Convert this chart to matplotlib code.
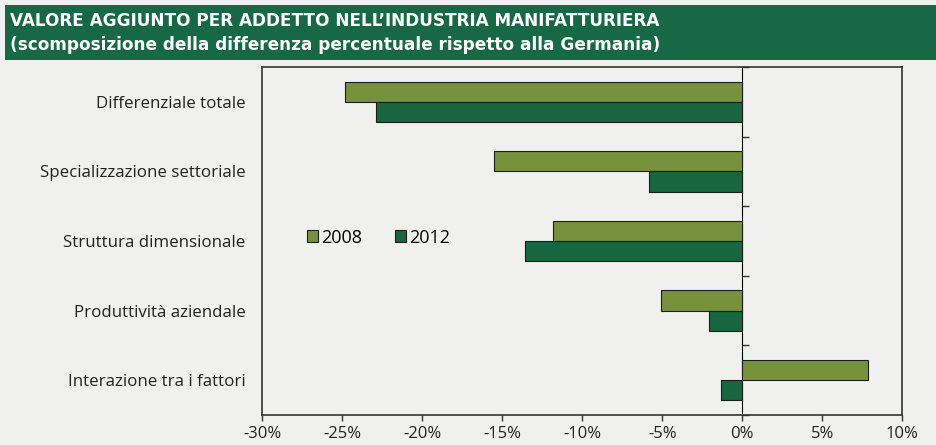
import matplotlib
matplotlib.use("Agg")
import matplotlib.pyplot as plt
import numpy as np
from matplotlib.patches import Rectangle

# categories, top to bottom
categories = ["Differenziale totale", "Specializzazione settoriale",
              "Struttura dimensionale", "Produttività aziendale",
              "Interazione tra i fattori"]
# percentage differences vs Germany
values_2008 = [-24.8, -15.5, -11.8, -5.1, 7.85]
values_2012 = [-22.9, -5.8, -13.6, -2.05, -1.3]
series_labels = ["2008", "2012"]
xticks = [-30, -25, -20, -15, -10, -5, 0, 5, 10]

title_lines = ["VALORE AGGIUNTO PER ADDETTO NELL\u2019INDUSTRIA MANIFATTURIERA",
               "(scomposizione della differenza percentuale rispetto alla Germania)"]

bg = "#f0f0ef"
c2008 = "#76923c"
c2012 = "#17663f"
banner = "#176844"

plt.rcParams['font.family'] = ['Open Sans', 'DejaVu Sans']

fig = plt.figure(figsize=(9.36, 4.45), dpi=100, facecolor=bg)
ax = fig.add_axes([0.280, 0.0674, 0.684, 0.782])
ax.set_facecolor(bg)

# title banner
fig.patches.append(Rectangle((5 / 936, 1 - 60 / 445), 1, 55 / 445,
                             transform=fig.transFigure, facecolor=banner,
                             edgecolor="none", zorder=0))
for i, line in enumerate(title_lines):
    fig.text(10 / 936, 1 - (21 + 24 * i) / 445, line, color="white",
             fontsize=12.2, fontweight="bold", va="center", ha="left",
             family=['DejaVu Sans'])

y = np.arange(len(categories))
h = 0.29
ax.barh(y - h / 2, values_2008, height=h, color=c2008, edgecolor="#1c1c1c",
        linewidth=0.8, label=series_labels[0], zorder=3)
ax.barh(y + h / 2, values_2012, height=h, color=c2012, edgecolor="#1c1c1c",
        linewidth=0.8, label=series_labels[1], zorder=3)

ax.set_xlim(-30, 10)
ax.set_ylim(len(categories) - 0.5, -0.5)
ax.set_yticks(y)
ax.set_yticklabels(categories, fontsize=12.2, color="#222222")
ax.tick_params(axis="y", length=0, pad=12)
ax.set_xticks(xticks)
ax.set_xticklabels([f"{t}%" for t in xticks], fontsize=12, color="#222222")
ax.tick_params(axis="x", direction="out", length=4, width=1, pad=4, color="#333333")
for s in ax.spines.values():
    s.set_color("#333333")
    s.set_linewidth(1.2)

# zero axis with ticks between categories
zero_ax = ax.secondary_yaxis(0.75)
zero_ax.set_yticks(np.arange(len(categories) + 1) - 0.5)
zero_ax.set_yticklabels([])
zero_ax.tick_params(direction="out", length=5, width=1, color="#333333")
zero_ax.spines['left'].set_color("#333333")
zero_ax.spines['left'].set_linewidth(1.2)

leg = ax.legend(loc="center left", bbox_to_anchor=(0.045, 0.51), ncol=2,
                frameon=False, fontsize=13, handlelength=0.6, handleheight=0.6,
                handletextpad=0.2, columnspacing=1.8)

fig.savefig("out.png", dpi=100, facecolor=bg)
